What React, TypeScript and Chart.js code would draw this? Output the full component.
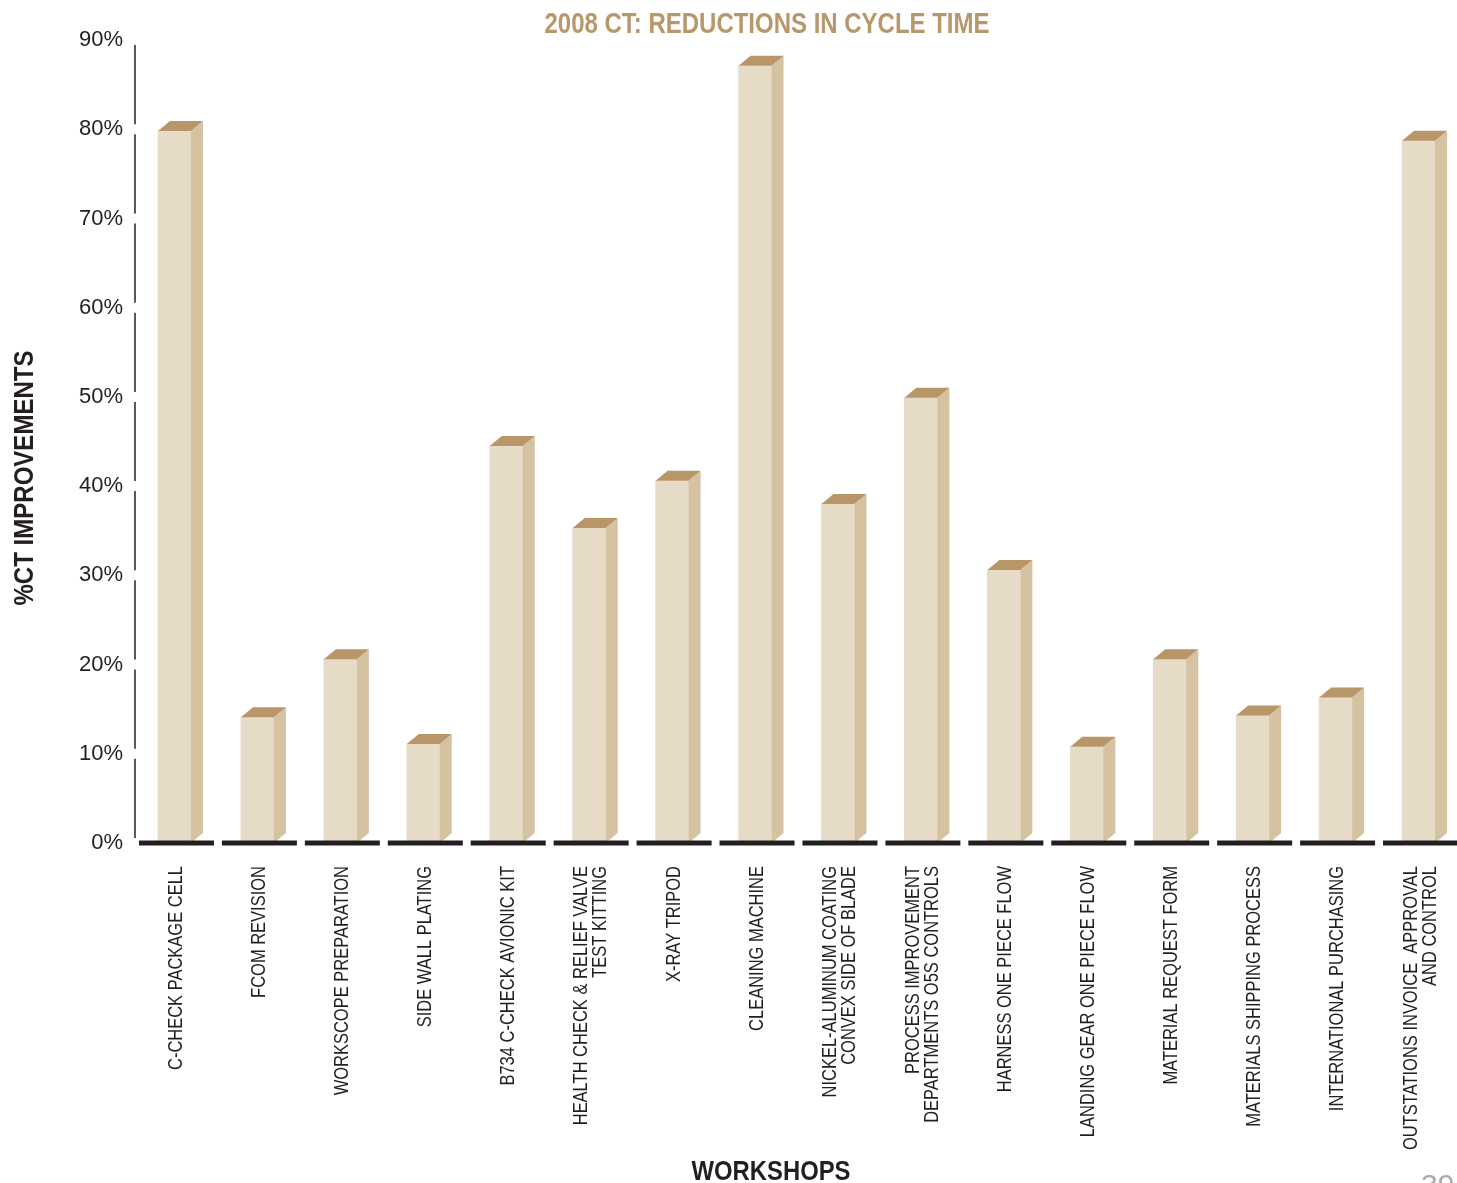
import React, { useEffect, useRef } from 'react';
import { Chart, registerables } from 'chart.js';

Chart.register(...registerables);

const chartTitle = '2008 CT: REDUCTIONS IN CYCLE TIME';
const yAxisTitle = '%CT IMPROVEMENTS';
const xAxisTitle = 'WORKSHOPS';
const pageNumber = '39';

const categories: string[][] = [
  ['C-CHECK PACKAGE CELL'],
  ['FCOM REVISION'],
  ['WORKSCOPE PREPARATION'],
  ['SIDE WALL PLATING'],
  ['B734 C-CHECK AVIONIC KIT'],
  ['HEALTH CHECK & RELIEF VALVE', 'TEST KITTING'],
  ['X-RAY TRIPOD'],
  ['CLEANING MACHINE'],
  ['NICKEL-ALUMINUM COATING', 'CONVEX SIDE OF BLADE'],
  ['PROCESS IMPROVEMENT', 'DEPARTMENTS O5S CONTROLS'],
  ['HARNESS ONE PIECE FLOW'],
  ['LANDING GEAR ONE PIECE FLOW'],
  ['MATERIAL REQUEST FORM'],
  ['MATERIALS SHIPPING PROCESS'],
  ['INTERNATIONAL PURCHASING'],
  ['OUTSTATIONS INVOICE  APPROVAL', 'AND CONTROL'],
];

const ctImprovement: number[] = [
  79.8, 14.1, 20.6, 11.1, 44.5, 35.3, 40.6, 87.1,
  38.0, 49.9, 30.6, 10.8, 20.6, 14.3, 16.3, 78.7,
];

const yTickValues: number[] = [0, 10, 20, 30, 40, 50, 60, 70, 80, 90];

const FRONT = '#e5dbc7';
const SIDE = '#d5c2a1';
const TOP = '#b89668';
const INK = '#231f20';
const GOLD = '#b8976a';

const decorPlugin = {
  id: 'decor3d',
  afterDatasetsDraw(chart: any) {
    const ctx = chart.ctx;
    const meta = chart.getDatasetMeta(0);
    const xScale = chart.scales.x;
    const yScale = chart.scales.y;
    const dx = 12;
    const dy = 10;
    ctx.save();
    meta.data.forEach((bar: any) => {
      const { x, y, base, width } = bar.getProps(['x', 'y', 'base', 'width'], true);
      const x0 = x - width / 2;
      const x1 = x + width / 2;
      ctx.fillStyle = SIDE;
      ctx.beginPath();
      ctx.moveTo(x1, y);
      ctx.lineTo(x1 + dx, y - dy);
      ctx.lineTo(x1 + dx, base - dy);
      ctx.lineTo(x1, base);
      ctx.closePath();
      ctx.fill();
      ctx.fillStyle = TOP;
      ctx.beginPath();
      ctx.moveTo(x0, y);
      ctx.lineTo(x1, y);
      ctx.lineTo(x1 + dx, y - dy);
      ctx.lineTo(x0 + dx, y - dy);
      ctx.closePath();
      ctx.fill();
    });
    // ground segments
    const baseY = yScale.getPixelForValue(0);
    ctx.fillStyle = INK;
    categories.forEach((_, i) => {
      const cx = xScale.getPixelForValue(i) + 2;
      ctx.fillRect(cx - 37.5, baseY - 2.5, 75, 5);
    });
    // y axis line with gaps at ticks
    const pix = yScale.ticks
      .map((_: any, i: number) => yScale.getPixelForTick(i))
      .sort((a: number, b: number) => a - b);
    ctx.strokeStyle = INK;
    ctx.lineWidth = 1.5;
    const ax = chart.chartArea.left + 2;
    let start = chart.chartArea.top + 2;
    pix.forEach((p: number) => {
      if (p - 5 > start) {
        ctx.beginPath();
        ctx.moveTo(ax, start);
        ctx.lineTo(ax, p - 5);
        ctx.stroke();
      }
      start = Math.max(start, p + 5);
    });
    ctx.restore();
  },
  afterDraw(chart: any) {
    const ctx = chart.ctx;
    const xScale = chart.scales.x;
    ctx.save();
    // main title
    ctx.fillStyle = GOLD;
    ctx.font = 'bold 29px "Liberation Sans", Arial, sans-serif';
    ctx.textAlign = 'center';
    ctx.textBaseline = 'middle';
    let w = ctx.measureText(chartTitle).width;
    ctx.save();
    ctx.translate(767, 25);
    ctx.scale(445 / w, 1);
    ctx.fillText(chartTitle, 0, 0);
    ctx.restore();

    // y title
    ctx.fillStyle = INK;
    ctx.font = 'bold 28px "Liberation Sans", Arial, sans-serif';
    w = ctx.measureText(yAxisTitle).width;
    ctx.save();
    ctx.translate(25, 478);
    ctx.rotate(-Math.PI / 2);
    ctx.scale(255 / w, 1);
    ctx.fillText(yAxisTitle, 0, 0);
    ctx.restore();

    // x title
    ctx.font = 'bold 28px "Liberation Sans", Arial, sans-serif';
    w = ctx.measureText(xAxisTitle).width;
    ctx.save();
    ctx.translate(771, 1172);
    ctx.scale(159 / w, 1);
    ctx.fillText(xAxisTitle, 0, 0);
    ctx.restore();

    // x category labels
    ctx.font = '20px "Liberation Sans", Arial, sans-serif';
    const f = 204 / ctx.measureText(categories[0][0]).width;
    ctx.textAlign = 'right';
    ctx.textBaseline = 'middle';
    const lh = 19;
    categories.forEach((lines, i) => {
      const cx = xScale.getPixelForValue(i) + 2;
      lines.forEach((line, j) => {
        const off = (j - (lines.length - 1) / 2) * lh;
        ctx.save();
        ctx.translate(cx + off, 866);
        ctx.rotate(-Math.PI / 2);
        ctx.scale(f, 1);
        ctx.fillText(line, 0, 0);
        ctx.restore();
      });
    });

    // page number (cut by page edge)
    ctx.fillStyle = '#a7a9ac';
    ctx.font = '30px "Liberation Sans", Arial, sans-serif';
    ctx.textAlign = 'left';
    ctx.textBaseline = 'top';
    ctx.fillText(pageNumber, 1421, 1172);
    ctx.restore();
  },
};

export default function App() {
  const ref = useRef<HTMLCanvasElement | null>(null);

  useEffect(() => {
    if (!ref.current) return;
    const chart = new Chart(ref.current, {
      type: 'bar',
      data: {
        labels: categories.map((c) => c.join(' ')),
        datasets: [
          {
            data: ctImprovement,
            backgroundColor: FRONT,
            borderWidth: 0,
            barThickness: 33,
          },
        ],
      },
      options: {
        responsive: false,
        animation: false,
        devicePixelRatio: 1,
        layout: { padding: { top: 40, left: 0, right: 0, bottom: 0 } },
        plugins: {
          legend: { display: false },
          tooltip: { enabled: false },
          title: { display: false },
        },
        scales: {
          x: {
            grid: { display: false, drawTicks: false },
            border: { display: false },
            ticks: { display: false },
            afterFit: (s: any) => {
              s.height = 340;
            },
          },
          y: {
            min: 0,
            max: 90,
            grid: { display: false, drawTicks: false },
            border: { display: false },
            afterBuildTicks: (s: any) => {
              s.ticks = yTickValues.map((v) => ({ value: v }));
            },
            ticks: {
              padding: 10,
              color: INK,
              font: { family: '"Liberation Sans", Arial, sans-serif', size: 22 },
              callback: (v: any) => `${v}%`,
            },
            afterFit: (s: any) => {
              s.width = 133;
            },
          },
        },
      },
      plugins: [decorPlugin],
    });
    return () => chart.destroy();
  }, []);

  return (
    <div
      style={{
        position: 'absolute',
        left: 0,
        top: 0,
        width: 1457,
        height: 1183,
        overflow: 'hidden',
        background: '#fff',
      }}
    >
      <canvas ref={ref} width={1460} height={1183} style={{ display: 'block' }} />
    </div>
  );
}
